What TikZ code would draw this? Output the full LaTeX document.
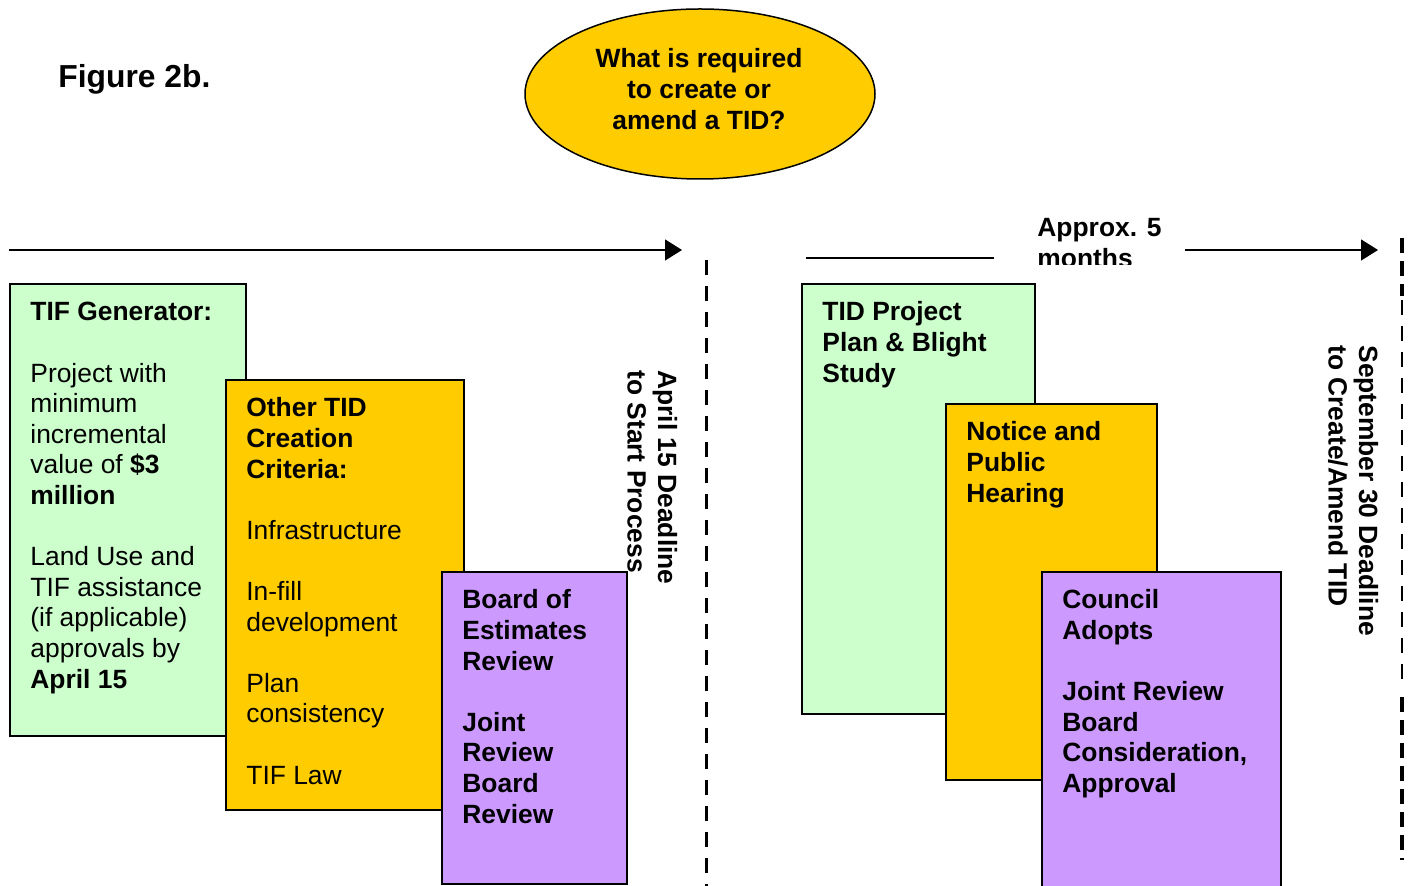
\documentclass[tikz,border=0pt]{standalone}
\usepackage{fontspec}
\setmainfont{Liberation Sans}
\usetikzlibrary{shapes.geometric,arrows.meta}
\definecolor{boxgreen}{HTML}{CCFFCC}
\definecolor{boxorange}{HTML}{FFCC00}
\definecolor{boxpurple}{HTML}{CC99FF}
\newcommand{\bfnt}{\fontsize{13.2}{15.3}\selectfont}
\newcommand{\st}{\rule{0pt}{10pt}}
\newcommand{\gap}{\\[15.3pt]}
\begin{document}
\begin{tikzpicture}[x=0.5pt,y=-0.5pt,
  boxnode/.style={draw=black, line width=1pt, inner sep=0pt, outer sep=0pt, anchor=north west},
  btext/.style={anchor=north west, inner sep=0pt, align=left, font=\bfnt},
  bbtext/.style={btext, font=\bfnt\bfseries},
  arrowline/.style={line width=0.75pt, -{Triangle[length=8.5pt,width=10.5pt]}},
  plainline/.style={line width=0.75pt},
  deadline/.style={line width=1.5pt, dash pattern=on 7.5pt off 5.5pt},
  deadthick/.style={line width=2pt, dash pattern=on 7.5pt off 4pt},
  deadthin/.style={line width=1pt, dash pattern=on 7.5pt off 5.5pt}]
\useasboundingbox (0,0) rectangle (1408,886);
\clip (0,0) rectangle (1408,886);

% title
\node[anchor=base west, inner sep=0pt, font=\fontsize{15.9}{18}\selectfont\bfseries] (fig) at (58,87.5) {Figure 2b.};

% ellipse
\node[ellipse, draw=black, line width=0.75pt, fill=boxorange, minimum width=175pt, minimum height=85pt, inner sep=0pt] (q) at (700,94) {};
\node[anchor=north, inner sep=0pt, align=center, font=\bfnt\bfseries] (qt) at (699,47.5) {\st What is required\\ to create or\\ amend a TID?};

% timeline arrows
\coordinate (a1s) at (9,250);
\coordinate (a1e) at (682,250);
\draw[arrowline] (a1s) -- (a1e);
\coordinate (a2s) at (806,258);
\coordinate (a2e) at (994,258);
\draw[plainline] (a2s) -- (a2e);
\coordinate (a3s) at (1185,250);
\coordinate (a3e) at (1378,250);
\draw[arrowline] (a3s) -- (a3e);
\begin{scope}
\clip (1020,200) rectangle (1200,265);
\node[bbtext] (approx) at (1037,216.5) {\st Approx. 5\\ months};
\end{scope}

% deadlines
\coordinate (d1s) at (706,260);
\coordinate (d1e) at (706,886);
\draw[deadline] (d1s) -- (d1e);
\coordinate (d2s) at (1402,238);
\coordinate (d2a) at (1402,296);
\coordinate (d2b) at (1402,300);
\coordinate (d2c) at (1402,690);
\coordinate (d2d) at (1402,697);
\coordinate (d2e) at (1402,860);
\draw[deadthick] (d2s) -- (d2a);
\draw[deadthin] (d2b) -- (d2c);
\draw[deadthick] (d2d) -- (d2e);

% left boxes
\node[boxnode, fill=boxgreen, minimum width=118pt, minimum height=226pt] (g1) at (10,284) {};
\node[btext] (g1t) at (30,300.5) {\st\textbf{TIF Generator:}\gap Project with\\ minimum\\ incremental\\ value of \textbf{\$3}\\ \textbf{million}\gap Land Use and\\ TIF assistance\\ (if applicable)\\ approvals by\\ \textbf{April 15}};

\node[boxnode, fill=boxorange, minimum width=119pt, minimum height=215pt] (o1) at (226,380) {};
\node[btext] (o1t) at (246,396.5) {\st\textbf{Other TID}\\ \textbf{Creation}\\ \textbf{Criteria:}\gap Infrastructure\gap In-fill\\ development\gap Plan\\ consistency\gap TIF Law};

\node[boxnode, fill=boxpurple, minimum width=92.5pt, minimum height=156pt] (p1) at (442,572) {};
\node[bbtext] (p1t) at (462,588.5) {\st Board of\\ Estimates\\ Review\gap Joint\\ Review\\ Board\\ Review};

% right boxes
\node[boxnode, fill=boxgreen, minimum width=116.5pt, minimum height=215pt] (g2) at (802,284) {};
\node[bbtext] (g2t) at (822,300.5) {\st TID Project\\ Plan \& Blight\\ Study};

\node[boxnode, fill=boxorange, minimum width=105.5pt, minimum height=188pt] (o2) at (946,404) {};
\node[bbtext] (o2t) at (966,420.5) {\st Notice and\\ Public\\ Hearing};

\node[boxnode, fill=boxpurple, minimum width=119.5pt, minimum height=170pt] (p2) at (1042,572) {};
\node[bbtext] (p2t) at (1062,588.5) {\st Council\\ Adopts\gap Joint Review\\ Board\\ Consideration,\\ Approval};

% rotated deadline labels
\node[bbtext, rotate=-90] (l1) at (678.5,370) {\st April 15 Deadline\\ to Start Process};
\node[bbtext, rotate=-90] (l2) at (1379.5,345) {\st September 30 Deadline\\ to Create/Amend TID};
\end{tikzpicture}
\end{document}
